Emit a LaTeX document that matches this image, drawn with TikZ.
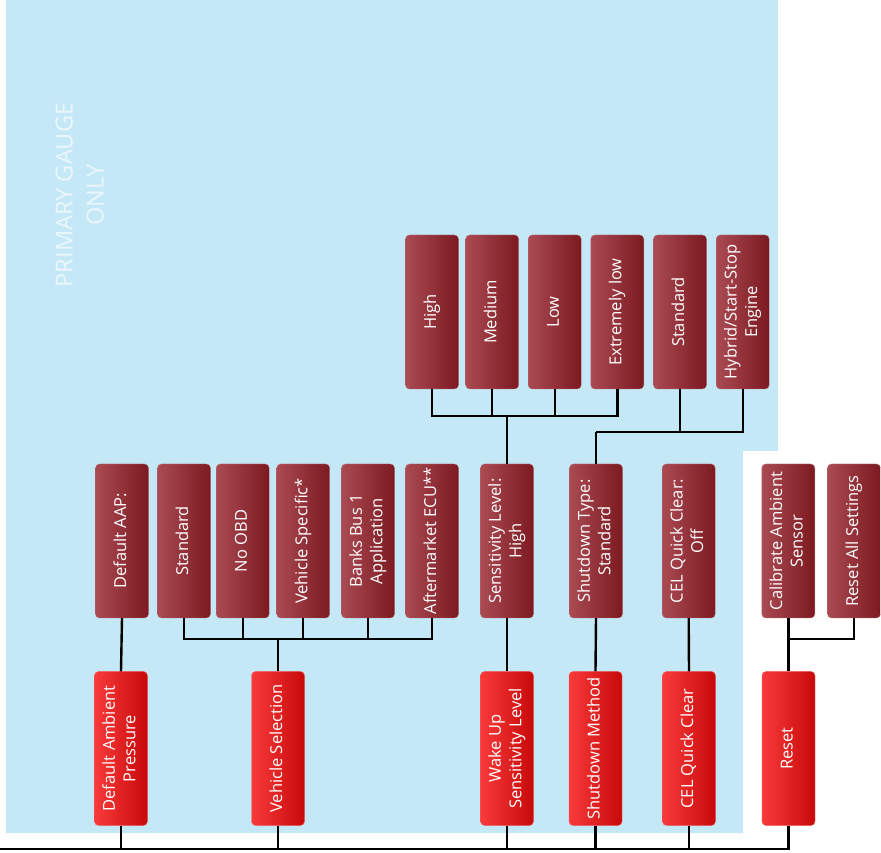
\documentclass[tikz,border=0pt]{standalone}
\usepackage{fontspec}
\setmainfont{Open Sans}
\usepackage{tikz}
\usetikzlibrary{calc}
\usepackage{xcolor}

\definecolor{gaugeblue}{HTML}{C5E8F7}
\definecolor{gaugetext}{HTML}{EBF7FD}
\definecolor{optleft}{HTML}{AA4A52}
\definecolor{optright}{HTML}{7C1921}
\definecolor{menuleft}{HTML}{F93A3A}
\definecolor{menuright}{HTML}{C70909}

\newcommand{\vtext}[1]{\rotatebox{90}{\begin{tabular}{@{}c@{}}#1\end{tabular}}}

\begin{document}
\begin{tikzpicture}[x=1pt, y=1pt,
  font=\fontsize{16.5}{20.5}\selectfont,
  optbox/.style={rectangle, rounded corners=4pt, minimum width=53pt, minimum height=154pt,
    inner sep=0pt, text=white, left color=optleft, right color=optright,
    draw=optleft!80!white, line width=0.4pt},
  menubox/.style={optbox, left color=menuleft, right color=menuright, draw=menuleft!80!white},
  link/.style={line width=2.4pt, black}]
  \useasboundingbox (0,0) rectangle (881,852);

  %% Primary gauge area
  \fill[gaugeblue] (6,852) -- (778,852) -- (778,401) -- (743,401) -- (743,19) -- (6,19) -- cycle;
  \node[text=gaugetext, font=\fontsize{23.5}{31}\selectfont] (gauge) at (82,657)
    {\rotatebox{90}{\begin{tabular}{@{}c@{}}PRIMARY GAUGE\\ONLY\end{tabular}}};

  %% Main menu
  \node[menubox] (dap)   at (121,103.5) {\vtext{Default Ambient\\Pressure}};
  \node[menubox] (vsel)  at (278,103.5) {\vtext{Vehicle Selection}};
  \node[menubox] (wake)  at (507,103.5) {\vtext{Wake Up\\Sensitivity Level}};
  \node[menubox] (shm)   at (595.5,103.5) {\vtext{Shutdown Method}};
  \node[menubox] (celq)  at (689,103.5) {\vtext{CEL Quick Clear}};
  \node[menubox] (reset) at (788.5,103.5) {\vtext{Reset}};

  %% Settings
  \node[optbox] (aap)   at (122,311) {\vtext{Default AAP:}};
  \node[optbox] (vstd)  at (184,311) {\vtext{Standard}};
  \node[optbox] (nobd)  at (242.7,311) {\vtext{No OBD}};
  \node[optbox] (vspec) at (303.2,311) {\vtext{Vehicle Specific*}};
  \node[optbox] (bbus)  at (368,311) {\vtext{Banks Bus 1\\Application}};
  \node[optbox] (aecu)  at (432,311) {\vtext{Aftermarket ECU**}};
  \node[optbox] (sens)  at (507,311) {\vtext{Sensitivity Level:\\High}};
  \node[optbox] (sdt)   at (596,311) {\vtext{Shutdown Type:\\Standard}};
  \node[optbox] (celo)  at (688.7,311) {\vtext{CEL Quick Clear:\\Off}};
  \node[optbox] (cal)   at (788.3,311) {\vtext{Calibrate Ambient\\Sensor}};
  \node[optbox] (rall)  at (854,311) {\vtext{Reset All Settings}};

  %% Sensitivity and shutdown choices
  \node[optbox] (high) at (432,540) {\vtext{High}};
  \node[optbox] (med)  at (492.2,540) {\vtext{Medium}};
  \node[optbox] (low)  at (554.7,540) {\vtext{Low}};
  \node[optbox] (xlow) at (617.3,540) {\vtext{Extremely low}};
  \node[optbox] (std)  at (680,540) {\vtext{Standard}};
  \node[optbox] (hyb)  at (742.7,540) {\vtext{Hybrid/Start-Stop\\Engine}};

  %% Joints
  \coordinate (bus)   at (0,3);
  \coordinate (vjoin) at (vsel.north |- 0,213);
  \coordinate (rjoin) at (reset.north |- 0,213);
  \coordinate (sjoin) at (sens.north |- 0,436);
  \coordinate (djoin) at (sdt.north |- 0,420);

  %% Connectors
  \foreach \n in {dap,vsel,wake,shm,celq,reset}
    \draw[link] (\n.south) |- (bus);
  \foreach \a/\b in {aap/dap, sens/wake, sdt/shm, celo/celq}
    \draw[link] (\a.south) -- (\b.north);
  \draw[link] (vsel.north) -- (vjoin);
  \foreach \n in {vstd,nobd,vspec,bbus,aecu}
    \draw[link] (\n.south) |- (vjoin);
  \draw[link] (reset.north) -- (rjoin);
  \foreach \n in {cal,rall}
    \draw[link] (\n.south) |- (rjoin);
  \draw[link] (sens.north) -- (sjoin);
  \foreach \n in {high,med,low,xlow}
    \draw[link] (\n.south) |- (sjoin);
  \draw[link] (sdt.north) -- (djoin);
  \foreach \n in {std,hyb}
    \draw[link] (\n.south) |- (djoin);
\end{tikzpicture}
\end{document}
